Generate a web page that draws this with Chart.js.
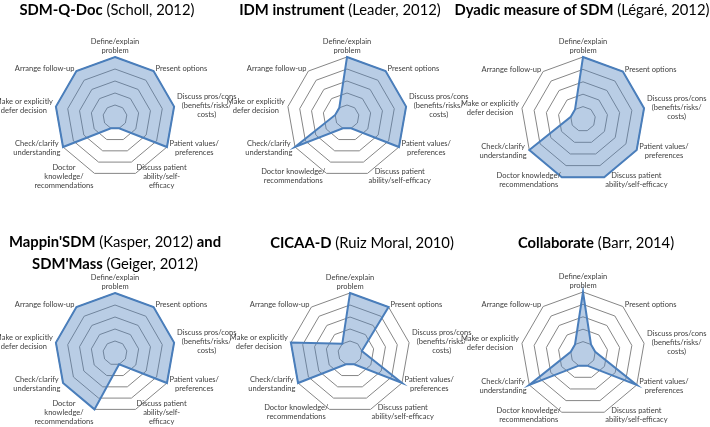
<!DOCTYPE html>
<html>
<head>
<meta charset="utf-8">
<script src="https://cdn.jsdelivr.net/npm/chart.js@4.4.1/dist/chart.umd.min.js"></script>
<style>
  html, body { margin: 0; padding: 0; background: #fff; }
  #wrap { position: relative; width: 710px; height: 427px; overflow: hidden; font-family: Lato, "Open Sans", sans-serif; }
  .ttl { position: absolute; width: 320px; text-align: center; white-space: nowrap;
         font-size: 14.8px; line-height: 22px; color: #000; }
  .ttl b { font-weight: 700; }
  .box { position: absolute; width: 260px; height: 220px; }
</style>
</head>
<body>
<div id="wrap">
  <div class="box" id="b1"><canvas id="c1" width="260" height="220"></canvas></div>
  <div class="box" id="b2"><canvas id="c2" width="260" height="220"></canvas></div>
  <div class="box" id="b3"><canvas id="c3" width="260" height="220"></canvas></div>
  <div class="box" id="b4"><canvas id="c4" width="260" height="220"></canvas></div>
  <div class="box" id="b5"><canvas id="c5" width="260" height="220"></canvas></div>
  <div class="box" id="b6"><canvas id="c6" width="260" height="220"></canvas></div>
  <div class="ttl" style="left:-53px; top:-2px;"><b>SDM-Q-Doc</b> (Scholl, 2012)</div>
  <div class="ttl" style="left:180px; top:-2px;"><b>IDM instrument</b> (Leader, 2012)</div>
  <div class="ttl" style="left:422px; top:-2px;"><b>Dyadic measure of SDM</b> (Légaré, 2012)</div>
  <div class="ttl" style="left:-45px; top:230px;"><b>Mappin'SDM</b> (Kasper, 2012) <b>and</b><br><b>SDM'Mass</b> (Geiger, 2012)</div>
  <div class="ttl" style="left:202px; top:231px;"><b>CICAA-D</b> (Ruiz Moral, 2010)</div>
  <div class="ttl" style="left:436px; top:231px;"><b>Collaborate</b> (Barr, 2014)</div>
</div>
<script>
// axis labels (two wrapping variants used in the figure)
const labelsNarrow = [
  ['Define/explain', 'problem'],
  'Present options',
  ['Discuss pros/cons', '(benefits/risks/', 'costs)'],
  ['Patient values/', 'preferences'],
  ['Discuss patient', 'ability/self-', 'efficacy'],
  ['Doctor', 'knowledge/', 'recommendations'],
  ['Check/clarify', 'understanding'],
  ['Make or explicitly', 'defer decision'],
  'Arrange follow-up'
];
const labelsWide = [
  ['Define/explain', 'problem'],
  'Present options',
  ['Discuss pros/cons', '(benefits/risks/', 'costs)'],
  ['Patient values/', 'preferences'],
  ['Discuss patient', 'ability/self-efficacy'],
  ['Doctor knowledge/', 'recommendations'],
  ['Check/clarify', 'understanding'],
  ['Make or explicitly', 'defer decision'],
  'Arrange follow-up'
];

// scores per instrument (1 = not covered, 5 = covered)
const sdmQDoc     = [5, 5, 5, 5, 1, 1, 5, 5, 5];
const idm         = [5, 5, 5, 5, 1, 1, 5, 1, 1];
const dyadic      = [5, 5, 5, 5, 5, 5, 5, 1, 1];
const mappin      = [5, 5, 5, 5, 1, 5, 5, 5, 5];
const cicaa       = [5, 5, 1, 5, 1, 1, 5, 5, 1];
const collaborate = [5, 1, 1, 5, 1, 1, 5, 1, 1];

const scaleMin = 0;
const scaleMax = 5;
const scaleStep = 1;

const LABEL_FONT = '7.5px "Liberation Sans Narrow", Lato, sans-serif';
const LINE_H = 9;

// Excel-style axis labels: block vertically centred on the spoke end, lines centred
const axisLabels = {
  id: 'axisLabels',
  afterDraw(chart) {
    const scale = chart.scales.r;
    const ctx = chart.ctx;
    const labels = chart.data.labels;
    ctx.save();
    ctx.font = LABEL_FONT;
    ctx.fillStyle = '#404040';
    ctx.textAlign = 'center';
    ctx.textBaseline = 'middle';
    labels.forEach((lab, i) => {
      const lines = Array.isArray(lab) ? lab : [lab];
      const p = scale.getPointPosition(i, scale.drawingArea + 3);
      const deg = i * 360 / labels.length;
      const w = Math.max(...lines.map(l => ctx.measureText(l).width));
      const h = lines.length * LINE_H;
      let x = p.x;
      let top = p.y - h / 2;
      if (deg === 0) top = p.y + 1.5 - h;
      else if (deg < 180) x = p.x + w / 2;
      else if (deg > 180) x = p.x - w / 2;
      lines.forEach((l, k) => ctx.fillText(l, x, top + LINE_H * (k + 0.5)));
    });
    ctx.restore();
  }
};

// where each radar sits inside the 710x427 figure
const panels = [
  { id: 'c1', box: 'b1', labels: labelsNarrow, data: sdmQDoc,     cx: 115, cy: 117, r: 60 },
  { id: 'c2', box: 'b2', labels: labelsWide,   data: idm,         cx: 347, cy: 117, r: 60 },
  { id: 'c3', box: 'b3', labels: labelsWide,   data: dyadic,      cx: 583, cy: 119, r: 62 },
  { id: 'c4', box: 'b4', labels: labelsNarrow, data: mappin,      cx: 115, cy: 353, r: 60 },
  { id: 'c5', box: 'b5', labels: labelsWide,   data: cicaa,       cx: 350, cy: 353, r: 60 },
  { id: 'c6', box: 'b6', labels: labelsWide,   data: collaborate, cx: 583, cy: 354, r: 62 }
];

panels.forEach(p => {
  const box = document.getElementById(p.box);
  const chart = new Chart(document.getElementById(p.id), {
    type: 'radar',
    data: {
      labels: p.labels,
      datasets: [{
        data: p.data,
        backgroundColor: 'rgba(79, 129, 189, 0.4)',
        borderColor: '#4a7ebb',
        borderWidth: 2,
        pointRadius: 0,
        tension: 0
      }]
    },
    options: {
      responsive: false,
      animation: false,
      layout: { padding: { left: 130 - p.r, right: 130 - p.r, top: 110 - p.r, bottom: 110 - p.r } },
      plugins: { legend: { display: false }, tooltip: { enabled: false } },
      scales: {
        r: {
          min: scaleMin,
          max: scaleMax,
          ticks: { stepSize: scaleStep, display: false },
          angleLines: { display: false },
          grid: { color: '#868686', lineWidth: 1 },
          pointLabels: { display: false }
        }
      }
    },
    plugins: [axisLabels]
  });
  // shift the canvas so the radar centre sits where it does in the figure
  const r = chart.scales.r;
  box.style.left = (p.cx - r.xCenter) + 'px';
  box.style.top = (p.cy - r.yCenter) + 'px';
});
</script>
</body>
</html>
